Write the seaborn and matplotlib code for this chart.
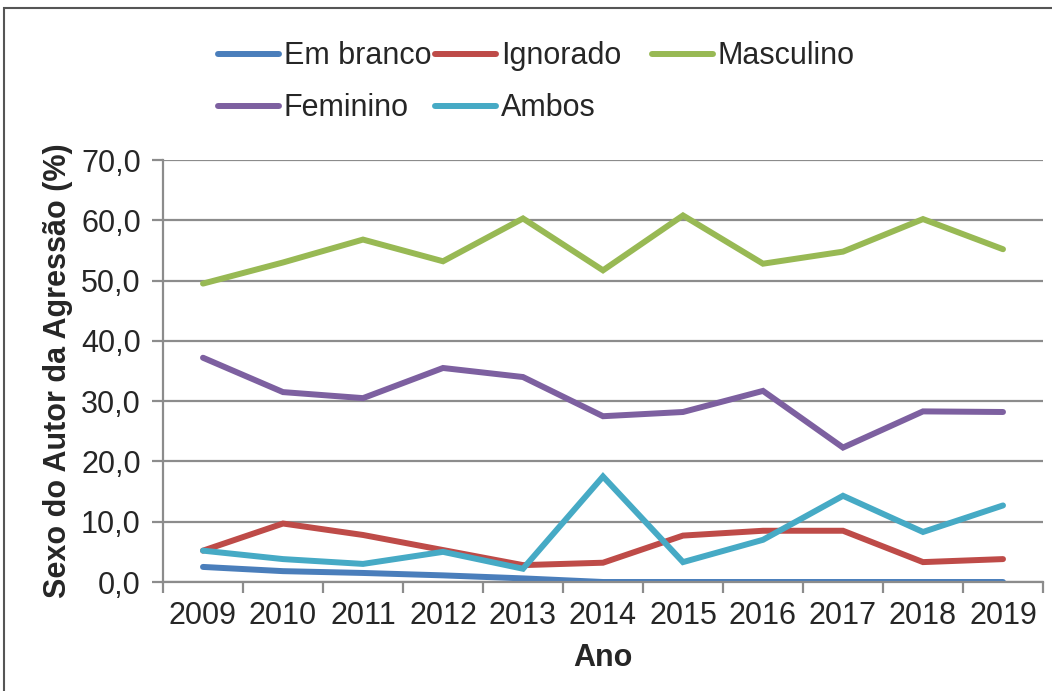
import matplotlib
matplotlib.use("Agg")
import matplotlib.pyplot as plt
from matplotlib.patches import Rectangle
from matplotlib.ticker import FuncFormatter, MultipleLocator
import numpy as np
import pandas as pd
import seaborn as sns

years = [2009, 2010, 2011, 2012, 2013, 2014, 2015, 2016, 2017, 2018, 2019]
em_branco = [2.5, 1.8, 1.5, 1.1, 0.6, 0.0, 0.0, 0.0, 0.0, 0.0, 0.0]
ignorado = [5.2, 9.7, 7.8, 5.3, 2.8, 3.2, 7.7, 8.5, 8.5, 3.3, 3.8]
masculino = [49.5, 53.0, 56.8, 53.2, 60.3, 51.7, 60.8, 52.8, 54.8, 60.2, 55.2]
feminino = [37.2, 31.5, 30.5, 35.5, 34.0, 27.5, 28.2, 31.7, 22.3, 28.3, 28.2]
ambos = [5.2, 3.8, 3.0, 5.0, 2.2, 17.5, 3.3, 7.0, 14.3, 8.3, 12.7]

series = {
    "Em branco": em_branco,
    "Ignorado": ignorado,
    "Masculino": masculino,
    "Feminino": feminino,
    "Ambos": ambos,
}
palette = {
    "Em branco": "#4A7EBB",
    "Ignorado": "#BE4B48",
    "Masculino": "#98B954",
    "Feminino": "#7D60A0",
    "Ambos": "#46AAC5",
}

df = pd.DataFrame(
    [(y, name, v) for name, vals in series.items() for y, v in zip(years, vals)],
    columns=["Ano", "Sexo", "Valor"],
)

sns.set_style("white")
plt.rcParams["font.family"] = ["Liberation Sans", "DejaVu Sans"]
fs = 22

fig = plt.figure(figsize=(10.52, 6.91), dpi=100)
ax = fig.add_axes([163 / 1052, 1 - 582 / 691, 880 / 1052, 422 / 691])

sns.lineplot(data=df, x="Ano", y="Valor", hue="Sexo", palette=palette,
             linewidth=4.3, ax=ax, legend=False, sort=False,
             solid_capstyle="round", solid_joinstyle="miter")

ax.set_xlim(years[0] - 0.5, years[-1] + 0.5)
ax.set_ylim(0, 70)
ax.yaxis.set_major_locator(MultipleLocator(10))
ax.yaxis.set_major_formatter(FuncFormatter(lambda v, p: f"{v:.1f}".replace(".", ",")))
ax.set_xticks(years)
ax.set_xticklabels([str(y) for y in years])
ax.set_xticks(np.arange(years[0] - 0.5, years[-1] + 1, 1), minor=True)

ax.grid(axis="y", color="#8c8c8c", linewidth=1.6)
ax.set_axisbelow(True)
for side in ["top", "right"]:
    ax.spines[side].set_visible(False)
for side in ["left", "bottom"]:
    ax.spines[side].set_color("#8c8c8c")
    ax.spines[side].set_linewidth(1.6)

ax.tick_params(axis="y", which="major", length=8, width=1.6, color="#8c8c8c",
               labelsize=fs, pad=8, left=True)
ax.tick_params(axis="x", which="major", length=0, labelsize=fs, pad=14)
ax.tick_params(axis="x", which="minor", length=8, width=1.6, color="#8c8c8c",
               direction="out", bottom=True)

ax.set_xlabel("Ano", fontsize=fs, fontweight="bold", labelpad=8)
ax.set_ylabel("Sexo do Autor da Agressão (%)", fontsize=fs, fontweight="bold", labelpad=6)

# legend: three equal-width columns, filled row by row
columns = [["Em branco", "Feminino"], ["Ignorado", "Ambos"], ["Masculino"]]
col_x = [218, 435, 652]
for names, x0 in zip(columns, col_x):
    handles = [plt.Line2D([], [], color=palette[n], linewidth=4.3, solid_capstyle="round")
               for n in names]
    leg = fig.legend(handles, names, loc="upper left",
                     bbox_to_anchor=(x0 / 1052, 0.940), frameon=False, fontsize=fs,
                     handlelength=2.0, handletextpad=0.15, labelspacing=0.72,
                     borderpad=0, borderaxespad=0)

fig.patches.append(Rectangle((4 / 1052, -0.05), 1.1, 1 - 8 / 691 + 0.05,
                             transform=fig.transFigure, fill=False,
                             edgecolor="#555555", linewidth=1.5))

fig.savefig("out.png", dpi=100)
